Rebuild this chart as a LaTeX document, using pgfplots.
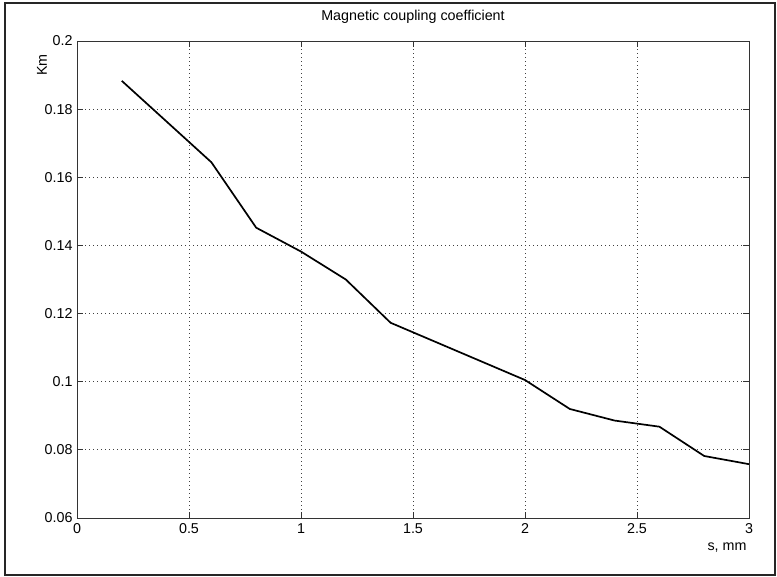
\documentclass[border=0pt]{standalone}
\usepackage{fontspec}
\setmainfont{Liberation Sans}
\usepackage{pgfplots}
\pgfplotsset{compat=1.18}
\begin{document}
\begin{tikzpicture}[font=\fontsize{14.3bp}{17bp}\selectfont]
\path[use as bounding box] (-77bp,-59bp) rectangle (700bp,518bp);
\begin{axis}[
  at={(0,0)}, anchor=south west,
  scale only axis, width=672bp, height=477bp,
  xmin=0, xmax=3, ymin=0.06, ymax=0.2,
  xtick={0,0.5,1,1.5,2,2.5,3},
  xticklabels={0,0.5,1,1.5,2,2.5,3},
  ytick={0.06,0.08,0.1,0.12,0.14,0.16,0.18,0.2},
  yticklabels={0.06,0.08,0.1,0.12,0.14,0.16,0.18,0.2},
  tick align=inside, major tick length=6bp,
  xtick pos=both, ytick pos=both,
  tick style={black!80, line width=0.8bp},
  grid=major,
  grid style={black!75, line width=0.9bp, dash pattern=on 0.9bp off 3.1bp},
  axis line style={black!80, line width=0.9bp},
  /pgf/number format/assume math mode=true,
  yticklabel style={xshift=-1bp},
  xticklabel style={yshift=-2bp},
  title={Magnetic coupling coefficient},
  title style={at={(0.5,1)}, anchor=center, yshift=18bp},
  clip=false,
]
\addplot[black, line width=1.7bp, line join=round] coordinates {
(0.2,0.1883) (0.6,0.1644) (0.8,0.1452) (1.0,0.1382) (1.2,0.1300)
(1.4,0.1173) (1.6,0.1117) (1.8,0.1061) (2.0,0.1005) (2.2,0.0920)
(2.4,0.0886) (2.6,0.0868) (2.8,0.0782) (3.0,0.0758)
};
\node[xshift=-35bp, yshift=-24bp, rotate=90, anchor=center] at (rel axis cs:0,1) {Km};
\node[xshift=1bp, yshift=-30bp, anchor=east] at (rel axis cs:1,0) {s, mm};
\end{axis}
\draw[line width=2bp, black!85] (-72bp,-57bp) rectangle (698bp,515bp);
\end{tikzpicture}
\end{document}
